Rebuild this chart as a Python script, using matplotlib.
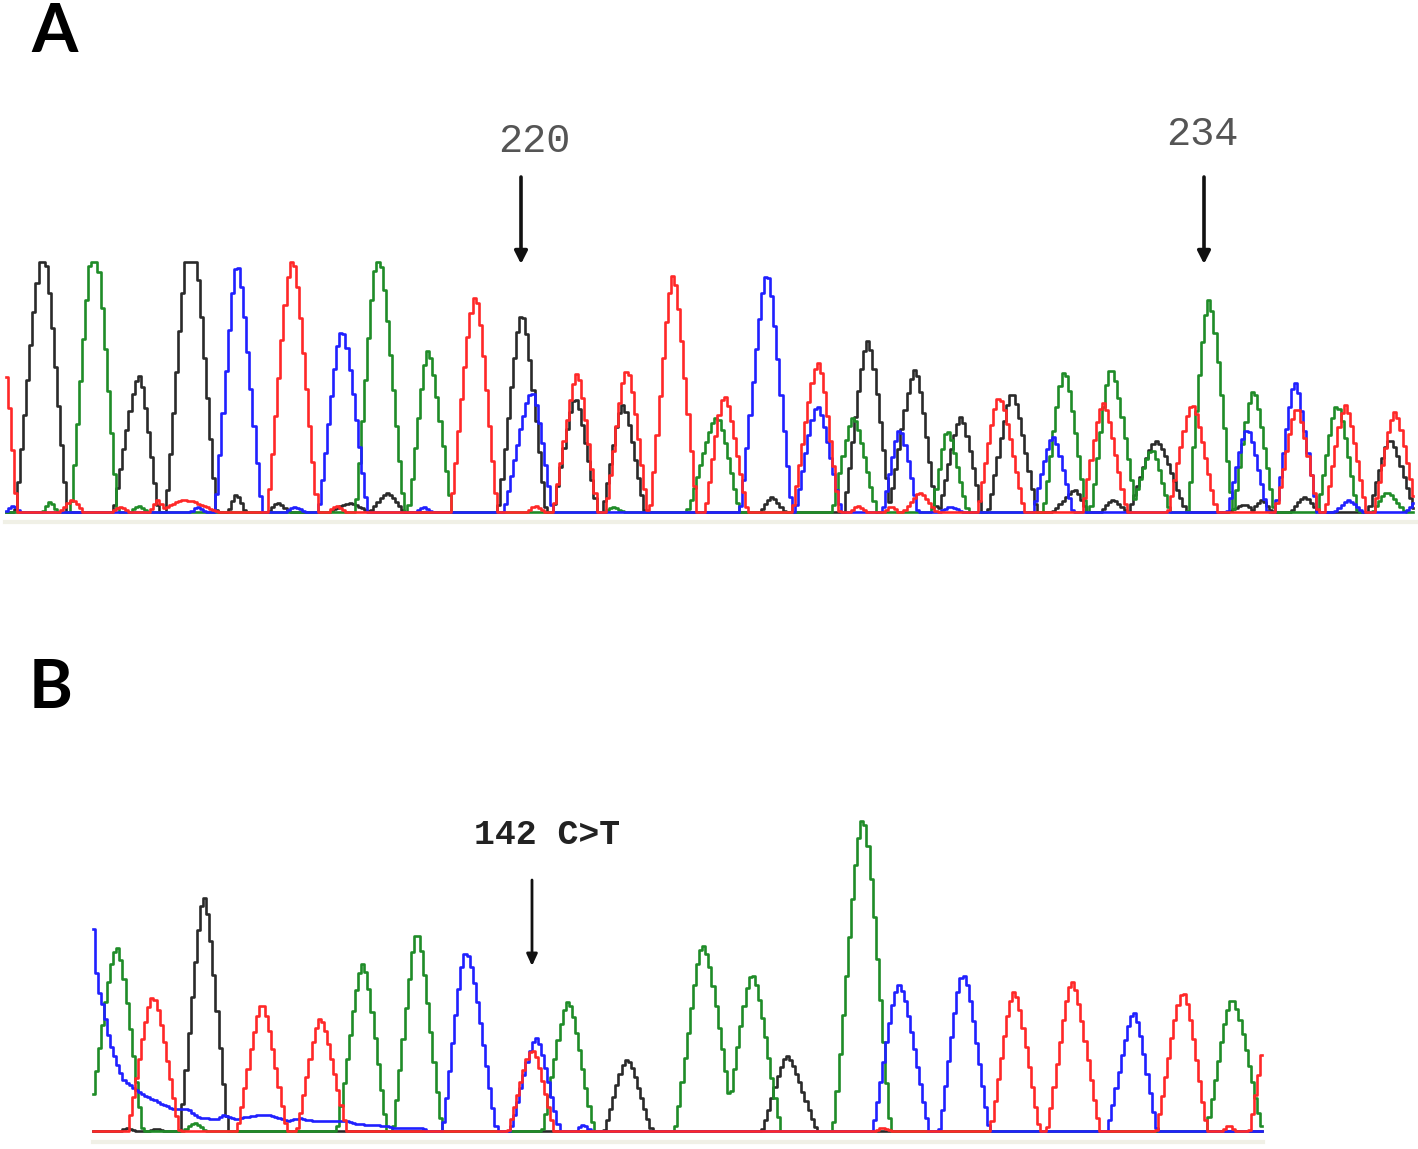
import numpy as np
import matplotlib
matplotlib.use("Agg")
import matplotlib.pyplot as plt

# peaks: left foot, apex, right foot, height above baseline
a_black = [(15, 43, 68, 262), (113, 139, 159, 137), (165, 191, 217, 285), (228, 236, 246, 18),
           (268, 278, 290, 9), (328, 350, 370, 9), (370, 387, 405, 19), (498, 522, 546, 200),
           (553, 575, 598, 115), (602, 623, 645, 107), (760, 772, 785, 15), (843, 868, 891, 172),
           (888, 915, 937, 143), (938, 961, 982, 95), (988, 1012, 1037, 120), (1053, 1075, 1088, 22),
           (1100, 1113, 1127, 12), (1128, 1156, 1187, 71), (1227, 1245, 1255, 7), (1250, 1262, 1273, 12),
           (1290, 1305, 1318, 15), (1368, 1390, 1415, 73)]
a_green = [(42, 50, 58, 10), (70, 94, 118, 272), (130, 138, 148, 6), (355, 378, 405, 258),
           (408, 428, 452, 162), (605, 613, 625, 5), (687, 717, 740, 95), (832, 853, 877, 95),
           (932, 947, 968, 82), (1043, 1064, 1087, 141), (1090, 1111, 1137, 145), (1130, 1152, 1170, 62),
           (1187, 1209, 1233, 213), (1233, 1253, 1275, 122), (1317, 1337, 1358, 107), (1372, 1387, 1405, 20)]
a_blue = [(5, 12, 22, 6), (190, 198, 206, 5), (215, 237, 262, 250), (285, 295, 305, 5),
          (318, 342, 368, 183), (415, 423, 432, 5), (503, 532, 553, 120), (740, 767, 792, 240),
          (795, 817, 842, 107), (882, 900, 918, 83), (938, 950, 965, 5), (1032, 1053, 1073, 76),
          (1227, 1247, 1268, 83), (1275, 1295, 1317, 130), (1335, 1348, 1363, 12), (1405, 1420, 1430, 14)]
a_red = [(-15, 5, 17, 140), (60, 72, 84, 12), (112, 120, 130, 5), (150, 158, 165, 12),
         (155, 185, 220, 12), (267, 292, 318, 255), (328, 337, 347, 6), (450, 475, 498, 217),
         (528, 535, 545, 6), (553, 577, 598, 139), (605, 627, 648, 143), (650, 673, 697, 238),
         (705, 724, 748, 117), (792, 818, 840, 150), (850, 858, 868, 6), (884, 891, 899, 6),
         (903, 920, 937, 19), (977, 999, 1025, 115), (1082, 1103, 1127, 110), (1168, 1192, 1217, 108),
         (1275, 1297, 1318, 105), (1325, 1345, 1367, 107), (1373, 1395, 1417, 100)]

b_black = [(120, 127, 135, 3), (180, 204, 228, 235), (148, 157, 166, 2), (604, 627, 652, 72),
           (762, 787, 817, 75)]
b_green = [(87, 117, 143, 185), (183, 195, 206, 8), (337, 363, 387, 168), (393, 417, 442, 200),
           (542, 568, 594, 130), (675, 703, 735, 187), (725, 752, 781, 158), (833, 863, 891, 315),
           (1206, 1232, 1263, 133)]
b_blue = [(442, 466, 497, 180), (510, 536, 560, 93), (576, 583, 592, 6), (872, 899, 930, 146),
          (939, 963, 990, 158), (1107, 1134, 1157, 119)]
b_red = [(127, 153, 180, 135), (237, 262, 287, 128), (297, 320, 347, 113), (508, 532, 555, 82),
         (875, 882, 892, 3), (990, 1014, 1040, 140), (1047, 1072, 1100, 150), (1156, 1183, 1208, 140),
         (1222, 1229, 1236, 6), (1249, 1275, 1300, 140)]
# blue dye blob at the start of the B trace
b_blue_x = [93, 97, 103, 110, 123, 137, 160, 173, 187, 200, 217, 223, 237, 257, 270, 287, 300, 313, 347, 357, 387, 393, 423, 428]
b_blue_y = [202, 145, 125, 88, 52, 40, 28, 22, 22, 13, 12, 16, 12, 16, 16, 10, 13, 10, 10, 7, 5, 3, 3, 0]

# flank of a peak, foot to apex
flank_u = [0, .1, .2, .3, .4, .5, .6, .7, .8, .9, 1]
flank_f = [0, .09, .2, .32, .44, .56, .68, .79, .89, .96, 1]

colors = {"black": "#2a2a2a", "green": "#1f8c28", "blue": "#2020ff", "red": "#ff2828"}


def trace(scan, peaks, top):
    y = np.zeros_like(scan)
    for left, apex, right, h in peaks:
        u = np.where(scan < apex, (scan - left) / (apex - left), (right - scan) / (right - apex))
        y = np.maximum(y, h * np.interp(u, flank_u, flank_f, left=0))
    return np.minimum(y, top)


fig = plt.figure(figsize=(14.18, 11.49), dpi=100)
axA = fig.add_axes([0, (1149 - 522) / 1149, 1, 270 / 1149])
axB = fig.add_axes([0, (1149 - 1141) / 1149, 1, 340 / 1149])
axA.set_xlim(0, 1418), axA.set_ylim(-10, 260)
axB.set_xlim(0, 1418), axB.set_ylim(-10, 330)
for ax in (axA, axB):
    ax.axis("off")

# 1. panel A
scan = np.arange(6, 1416, 3.1)
for name, peaks in [("black", a_black), ("green", a_green), ("blue", a_blue), ("red", a_red)]:
    axA.plot(scan, trace(scan, peaks, 250), color=colors[name], lw=1.9, drawstyle="steps-mid", zorder=3)
axA.plot([5, 1416], [-10, -10], color="#f0f0e6", lw=3, clip_on=False)

# 2. panel B
scan = np.arange(93, 1263, 3.1)
blob = np.interp(scan, b_blue_x, b_blue_y)
axB.plot(scan, trace(scan, b_black, 330), color=colors["black"], lw=1.9, drawstyle="steps-mid")
axB.plot(scan, trace(scan, b_green, 330), color=colors["green"], lw=1.9, drawstyle="steps-mid")
axB.plot(scan, np.maximum(trace(scan, b_blue, 330), blob), color=colors["blue"], lw=1.9, drawstyle="steps-mid")
axB.plot(scan, trace(scan, b_red, 330), color=colors["red"], lw=1.9, drawstyle="steps-mid")
axB.plot([93, 1263], [-11, -11], color="#f0f0e6", lw=3, clip_on=False)

# 3. arrows and labels
for x in (521, 1204):
    axA.annotate("", xy=(x, 248), xytext=(x, 335), annotation_clip=False,
                 arrowprops=dict(arrowstyle="-|>,head_width=0.38,head_length=0.75", color="#111111", lw=2.6, shrinkA=0, shrinkB=0))
axB.annotate("", xy=(532, 165), xytext=(532, 251), annotation_clip=False,
             arrowprops=dict(arrowstyle="-|>,head_width=0.32,head_length=0.7", color="#111111", lw=2, shrinkA=0, shrinkB=0))

fig.text(31 / 1418, 1 - 52 / 1149, "A", fontsize=48, fontweight="bold", family="Lato", color="#000000")
fig.text(29 / 1418, 1 - 708 / 1149, "B", fontsize=48, fontweight="bold", family="Lato", color="#000000")
fig.text(534 / 1418, 1 - 141 / 1149, "220", fontsize=29, family="Liberation Mono", color="#555555", ha="center", va="center")
fig.text(1202 / 1418, 1 - 134 / 1149, "234", fontsize=29, family="Liberation Mono", color="#555555", ha="center", va="center")
fig.text(547 / 1418, 1 - 834 / 1149, "142 C>T", fontsize=25, fontweight="bold", family="Liberation Mono", color="#222222", ha="center", va="center")

fig.savefig("out.png", dpi=100)
